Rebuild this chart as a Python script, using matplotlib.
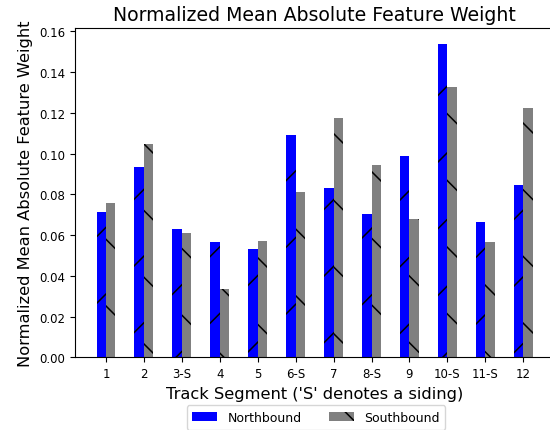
import matplotlib
matplotlib.use("Agg")
import matplotlib.pyplot as plt
import numpy as np

segments = ["1", "2", "3-S", "4", "5", "6-S", "7", "8-S", "9", "10-S", "11-S", "12"]
northbound = [0.0715, 0.0932, 0.0628, 0.0568, 0.0530, 0.1093, 0.0829, 0.0702, 0.0990, 0.1539, 0.0666, 0.0844]
southbound = [0.0759, 0.1049, 0.0610, 0.0334, 0.0573, 0.0809, 0.1175, 0.0946, 0.0677, 0.1327, 0.0568, 0.1222]

DPI = 200
K = 100.0 / DPI  # point sizes are given as if drawn at 100 dpi

plt.rcParams.update({
    "font.family": "DejaVu Sans",
    "font.size": 10 * K,
    "axes.linewidth": 0.8 * K,
    "xtick.major.size": 3.5 * K,
    "ytick.major.size": 3.5 * K,
    "xtick.major.width": 0.8 * K,
    "ytick.major.width": 0.8 * K,
    "xtick.major.pad": 3.5 * K,
    "ytick.major.pad": 3.5 * K,
    "axes.labelpad": 4 * K,
    "axes.titlepad": 6 * K,
    "hatch.linewidth": 0.55,
    "patch.linewidth": 1.0 * K,
    "legend.fontsize": 9 * K,
})

W, H = 550, 431
fig = plt.figure(figsize=(W / DPI, H / DPI), dpi=DPI)
left, right, top, bottom = 74.7, 554.6, 29.0, 358.3
ax = fig.add_axes([left / W, 1 - bottom / H, (right - left) / W, (bottom - top) / H])

x = np.arange(1, len(segments) + 1)
w = 0.25
ax.bar(x - w / 2, northbound, w, color="blue", hatch="/", label="Northbound")
ax.bar(x + w / 2, southbound, w, color="grey", hatch="\\", label="Southbound")

ax.set_xticks(x)
ax.set_xticklabels(segments)
ax.tick_params(labelsize=8.5 * K)
ax.set_xlabel("Track Segment ('S' denotes a siding)", fontsize=11.7 * K)
ax.set_ylabel("Normalized Mean Absolute Feature Weight", fontsize=11.7 * K)
ax.set_title("Normalized Mean Absolute Feature Weight", fontsize=13.6 * K)

fig.legend(loc="upper center", bbox_to_anchor=(316 / W, 1 - 400 / H), ncol=2,
           borderpad=0.45, columnspacing=2.2)

fig.savefig("out.png", dpi=DPI)
